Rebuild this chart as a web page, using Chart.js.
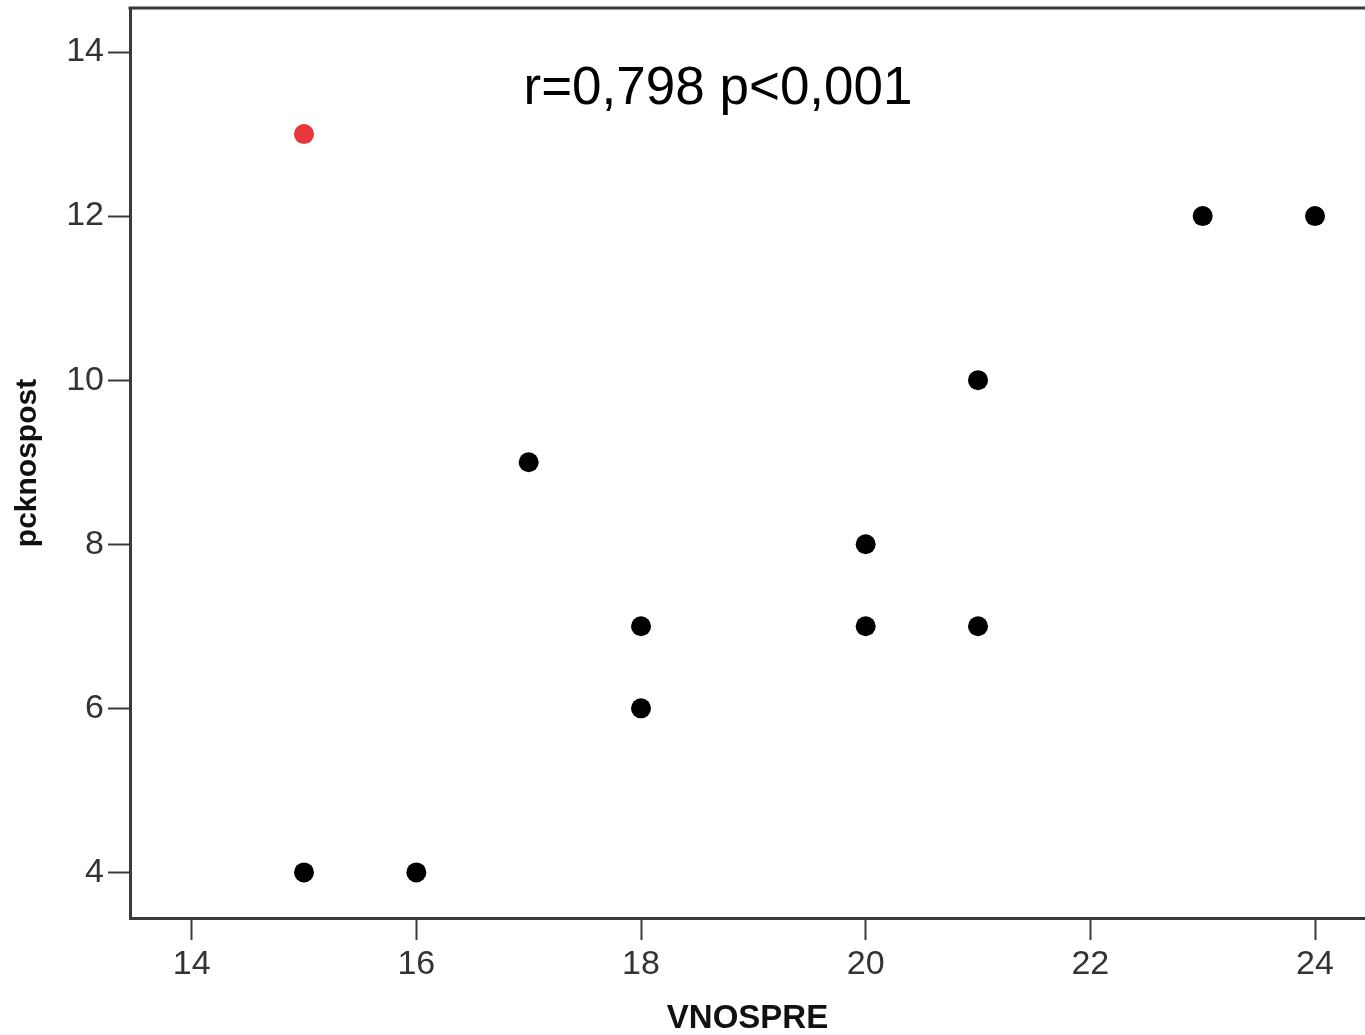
<!DOCTYPE html>
<html>
<head>
<meta charset="utf-8">
<script src="https://cdn.jsdelivr.net/npm/chart.js@4"></script>
<style>
    html, body { margin: 0; padding: 0; background: #fff; }
    #wrap { width: 1365px; height: 1035px; position: relative; }
</style>
</head>
<body>
<div id="wrap"><canvas id="graphic__scatter"></canvas></div>
<script>
// values
const vnospre = [15, 23, 24, 21, 17, 20, 18, 20, 21, 18, 15, 16];
const pcknospost = [13, 12, 12, 10, 9, 8, 7, 7, 7, 6, 4, 4];
const highlighted = [true, false, false, false, false, false, false, false, false, false, false, false];
const xTicks = [14, 16, 18, 20, 22, 24];
const yTicks = [4, 6, 8, 10, 12, 14];
const annotation = 'r=0,798 p<0,001';

const axisColor = '#3a3a3a';

const points = [];
vnospre.forEach((x, i) => {
    points.push({ x: x, y: pcknospost[i] });
});
const colors = highlighted.map((h) => h ? '#e8363b' : '#000');

// top frame line + the r/p text
const framePlugin = {
    id: 'framePlugin',
    afterDraw(chart) {
        const { ctx, chartArea } = chart;
        ctx.save();
        ctx.strokeStyle = axisColor;
        ctx.lineWidth = 3;
        ctx.beginPath();
        ctx.moveTo(chartArea.left - 1.5, chartArea.top);
        ctx.lineTo(chart.width, chartArea.top);
        ctx.stroke();

        ctx.fillStyle = '#000';
        ctx.font = '53px "Liberation Sans", Arial, sans-serif';
        ctx.textAlign = 'center';
        ctx.textBaseline = 'alphabetic';
        ctx.fillText(annotation, 718, 104);
        ctx.restore();
    }
};

const ctx = document.querySelector('#graphic__scatter').getContext('2d');

const config = {
    type: 'scatter',
    data: {
        datasets: [
            {
                data: points,
                backgroundColor: colors,
                borderColor: colors,
                borderWidth: 0,
                pointRadius: 10,
                pointHoverRadius: 10,
            }
        ]
    },
    options: {
        responsive: true,
        maintainAspectRatio: false,
        animation: false,
        layout: {
            autoPadding: false,
            padding: { top: 8, right: 0, bottom: 0, left: 0 }
        },
        plugins: {
            legend: { display: false },
            tooltip: { enabled: false },
        },
        scales: {
            x: {
                type: 'linear',
                min: 13.451,
                max: 24.445,
                afterFit: (axis) => {
                    axis.height = 117;
                    axis.paddingLeft = 0;
                    axis.paddingRight = 0;
                },
                afterBuildTicks: (axis) => { axis.ticks = xTicks.map((v) => ({ value: v })); },
                grid: {
                    drawOnChartArea: false,
                    drawTicks: true,
                    tickLength: 22,
                    tickWidth: 2,
                    tickColor: axisColor,
                },
                border: { display: true, color: axisColor, width: 3 },
                ticks: {
                    color: '#333',
                    padding: 4,
                    font: { size: 34, family: '"Liberation Sans", Arial, sans-serif' }
                },
                title: {
                    display: true,
                    text: 'VNOSPRE',
                    color: '#111',
                    padding: 0,
                    font: { size: 33, weight: 'bold', lineHeight: 1, family: '"Liberation Sans", Arial, sans-serif' }
                }
            },
            y: {
                type: 'linear',
                min: 3.444,
                max: 14.537,
                afterFit: (axis) => {
                    axis.width = 130;
                    axis.paddingTop = 0;
                    axis.paddingBottom = 0;
                },
                afterBuildTicks: (axis) => { axis.ticks = yTicks.map((v) => ({ value: v })); },
                grid: {
                    drawOnChartArea: false,
                    drawTicks: true,
                    tickLength: 22,
                    tickWidth: 2,
                    tickColor: axisColor,
                },
                border: { display: true, color: axisColor, width: 3 },
                ticks: {
                    color: '#333',
                    padding: 4,
                    font: { size: 34, family: '"Liberation Sans", Arial, sans-serif' }
                },
                title: {
                    display: true,
                    text: 'pcknospost',
                    color: '#111',
                    padding: { top: 13, bottom: 0 },
                    font: { size: 30, weight: 'bold', lineHeight: 1, family: '"Liberation Sans", Arial, sans-serif' }
                }
            }
        }
    },
    plugins: [framePlugin]
};

const myChart = new Chart(ctx, config);
</script>
</body>
</html>
